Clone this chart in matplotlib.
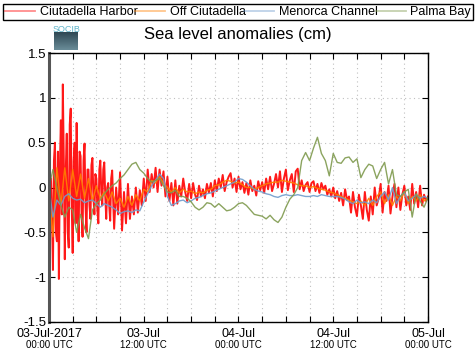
import numpy as np
import matplotlib
matplotlib.use("Agg")
import matplotlib.pyplot as plt

plt.rcParams['font.family'] = ['Liberation Sans', 'DejaVu Sans']

series_names = ["Ciutadella Harbor", "Off Ciutadella", "Menorca Channel", "Palma Bay"]
series_colors = ["#ff0000", "#ff8000", "#6f9ccc", "#7f9a4e"]

# Ciutadella Harbor, hours 0..8: 7.5-min samples
red_early_vals = [
    0.05, -0.2, 0.1, -0.3, -0.92, 0.3, 0.5, -0.5,
    -0.6, 0.4, -1.02, 0.2, 0.75, -0.3, 1.15, 0.3,
    -0.8, 0.2, 0.6, -0.5, -0.67, 0.7, 0.88, -0.2,
    -0.73, 0.3, 0.5, -0.4, 0.72, -0.1, -0.6, 0.4,
    0.35, -0.3, -0.55, 0.3, 0.49, -0.2, -0.5, 0.2,
    0.2, -0.2, -0.35, 0.25, 0.33, -0.1, -0.3, 0.15,
    0.1, -0.25, -0.4, 0.2, 0.3, -0.05, -0.2, 0.2,
    0.28, -0.1, -0.35, 0.0, 0.05, -0.2, -0.37, 0.1,
]
# Ciutadella Harbor, hours 8..48: 15-min samples
red_late_vals = [
    0.19, -0.46, 0.0, -0.3,
    0.17, -0.48, -0.05, -0.4,
    0.04, -0.35, -0.1, -0.3,
    0.0, -0.28, -0.03, -0.2,
    0.1, -0.15, 0.2, -0.05,
    0.15, 0.0, 0.22, -0.05,
    0.2, 0.02, 0.18, -0.1,
    0.12, -0.15, 0.05, -0.2,
    0.08, -0.18, 0.02, -0.1,
    0.1, -0.05, -0.15, 0.04,
    -0.12, 0.05, -0.08, -0.14,
    0.02, -0.1, -0.02, -0.12,
    0.04, -0.06, 0.05, -0.1,
    0.08, -0.04, 0.1, 0.0,
    0.14, -0.04, 0.06, 0.12,
    0.16, 0.0, 0.1, -0.05,
    0.12, -0.02, 0.06, -0.06,
    0.05, -0.08, 0.08, -0.04,
    0.02, -0.09, 0.07, -0.03,
    0.06, -0.06, 0.1, -0.02,
    0.12, -0.04, 0.04, 0.15,
    0.0, 0.18, -0.05, 0.1,
    0.2, -0.03, 0.08, 0.15,
    -0.05, 0.18, 0.21, -0.02,
    0.08, -0.04, 0.03, 0.06,
    -0.05, 0.05, 0.07, -0.04,
    0.04, -0.06, 0.05, -0.02,
    0.02, -0.08, -0.02, -0.1,
    0.0, -0.12, -0.04, -0.15,
    -0.06, -0.2, -0.02, -0.14,
    -0.1, -0.28, -0.05, -0.22,
    -0.32, -0.08, -0.2, -0.35,
    -0.05, -0.25, -0.37, -0.1,
    -0.3, 0.0, -0.2, -0.12,
    0.04, -0.28, -0.05, -0.15,
    0.02, -0.29, -0.1, 0.04,
    -0.22, 0.0, -0.25, -0.08,
    0.02, -0.2, -0.1, -0.25,
    0.04, -0.18, -0.05, -0.22,
    0.02, -0.2, -0.08, -0.15,
    -0.1,
]

# Off Ciutadella: 30-min samples
orange_vals = [
    0.0, -0.55, 0.22, -0.2, 0.22, -0.15, 0.2, -0.1, 0.15, -0.12,
    0.1, -0.15, 0.02, -0.12, -0.05, -0.15, -0.05, -0.18, -0.12, -0.22,
    -0.1, -0.2, -0.08, -0.15, -0.02, -0.05, 0.08, 0.05, 0.12, 0.05,
    0.0, -0.05, 0.0, -0.06, -0.02, -0.05, -0.04, -0.07, -0.05, -0.06,
    -0.03, -0.02, 0.02, 0.03, 0.06, 0.08, 0.07, 0.05, 0.06, 0.03,
    0.0, 0.0, -0.02, 0.0, 0.02, 0.04, 0.05, 0.06, 0.06, 0.08,
    0.07, 0.06, 0.05, 0.03, 0.02, 0.02, 0.0, 0.01, -0.01, -0.02,
    -0.03, -0.05, -0.06, -0.08, -0.1, -0.12, -0.14, -0.16, -0.18, -0.15,
    -0.2, -0.12, -0.2, -0.1, -0.05, -0.18, -0.08, -0.2, -0.1, -0.15,
    -0.05, -0.18, -0.1, -0.15, -0.08, -0.15, -0.12,
]

# Menorca Channel: 30-min samples
blue_vals = [
    0.0, -0.33, -0.14, -0.2, -0.1, -0.07, -0.12, -0.14, -0.13, -0.17,
    -0.15, -0.14, -0.18, -0.22, -0.18, -0.2, -0.22, -0.25, -0.29, -0.27,
    -0.26, -0.28, -0.25, -0.26, -0.16, -0.07, 0.02, 0.08, 0.15, 0.1,
    -0.1, -0.2, -0.18, -0.15, -0.14, -0.17, -0.15, -0.12, -0.11, -0.09,
    -0.07, -0.06, -0.04, -0.02, 0.0, 0.02, 0.04, 0.06, 0.1, 0.09,
    0.06, 0.02, -0.02, -0.04, -0.05, -0.07, -0.08, -0.1, -0.11, -0.09,
    -0.08, -0.09, -0.09, -0.08, -0.09, -0.1, -0.1, -0.09, -0.1, -0.08,
    -0.09, -0.1, -0.1, -0.1, -0.11, -0.13, -0.16, -0.18, -0.14, -0.17,
    -0.16, -0.18, -0.14, -0.17, -0.1, -0.05, -0.14, 0.0, -0.18, -0.1,
    -0.05, -0.15, -0.12, -0.08, -0.12, -0.1, -0.12,
]

# Palma Bay: 30-min samples
green_vals = [
    0.0, 0.2, 0.0, -0.2, -0.33, -0.22, -0.25, -0.5, -0.3, -0.45,
    -0.57, -0.25, -0.18, -0.14, -0.07, -0.02, 0.02, 0.05, 0.1, 0.14,
    0.2, 0.26, 0.28, 0.2, 0.16, 0.1, 0.06, 0.08, 0.1, 0.02,
    -0.05, -0.06, -0.03, -0.1, -0.1, -0.12, -0.16, -0.22, -0.25, -0.22,
    -0.17, -0.18, -0.22, -0.18, -0.22, -0.26, -0.25, -0.22, -0.18, -0.17,
    -0.2, -0.25, -0.3, -0.31, -0.32, -0.35, -0.31, -0.36, -0.39, -0.33,
    -0.22, -0.13, -0.08, 0.0, 0.3, 0.39, 0.3, 0.44, 0.56, 0.38,
    0.3, 0.13, 0.38, 0.28, 0.27, 0.33, 0.34, 0.28, 0.32, 0.11,
    0.2, 0.26, 0.24, 0.1, 0.2, 0.28, 0.04, 0.2, -0.08, -0.1,
    -0.05, -0.02, -0.33, -0.07, -0.15, -0.22, -0.11,
]

x_tick_hours = list(range(0, 49, 3))
x_label_hours = [0, 12, 24, 36, 48]
x_label_top = ["03-Jul-2017", "03-Jul", "04-Jul", "04-Jul", "05-Jul"]
x_label_bottom = ["00:00 UTC", "12:00 UTC", "00:00 UTC", "12:00 UTC", "00:00 UTC"]
y_ticks = [-1.5, -1, -0.5, 0, 0.5, 1, 1.5]
y_tick_labels = ["-1.5", "-1", "-0.5", "0", "0.5", "1", "1.5"]

red_vals = red_early_vals + red_late_vals
t_red = np.concatenate([np.arange(len(red_early_vals)) * 0.125,
                        8 + np.arange(len(red_late_vals)) * 0.25])
t_half = np.arange(len(orange_vals)) * 0.5

W, H = 476, 359
fig = plt.figure(figsize=(W / 100, H / 100), dpi=100)
ax = fig.add_axes([49 / W, 1 - 322 / H, (428 - 49) / W, (322 - 53) / H])

lines = []
for t, v, c, n, lw in [(t_red, red_vals, series_colors[0], series_names[0], 1.4),
                       (t_half, orange_vals, series_colors[1], series_names[1], 1.0),
                       (t_half, blue_vals, series_colors[2], series_names[2], 1.0),
                       (t_half, green_vals, series_colors[3], series_names[3], 1.0)]:
    ln, = ax.plot(t, v, color=c, lw=lw, alpha=0.9, label=n)
    lines.append(ln)

ax.set_xlim(0, 48)
ax.set_ylim(-1.5, 1.5)
ax.set_xticks(x_tick_hours)
ax.set_xticklabels([x_label_top[x_label_hours.index(h)] if h in x_label_hours else "" for h in x_tick_hours],
                   fontsize=9)
ax.set_yticks(y_ticks)
ax.set_yticklabels(y_tick_labels, fontsize=9.5)
ax.tick_params(direction='in', length=4, width=0.8, top=True, right=True)
ax.tick_params(axis='y', pad=2)
ax.tick_params(axis='x', pad=4.5)
ax.grid(True, color='#c0c0c0', linestyle=(0, (1, 3)), lw=0.8)
for s in ['top', 'right', 'bottom']:
    ax.spines[s].set_linewidth(1.0)
    ax.spines[s].set_color('black')
ax.spines['left'].set_linewidth(2.2)
ax.spines['left'].set_color('#555555')

for h, lab in zip(x_label_hours, x_label_bottom):
    ax.annotate(lab, xy=(h, 0), xycoords=('data', 'axes fraction'),
                xytext=(0, -22.5), textcoords='offset pixels', ha='center', va='center',
                fontsize=7)

fig.text(0.5, 1 - 35 / H, "Sea level anomalies (cm)", ha='center', va='center', fontsize=12)

leg = fig.legend(handles=lines, labels=series_names, loc='lower left', ncol=4, mode='expand',
                 bbox_to_anchor=(3 / W, 1 - 20 / H, 470 / W, 17 / H), fontsize=9,
                 handlelength=2.4, handletextpad=0.4, borderaxespad=0, borderpad=0.15,
                 columnspacing=0.8, fancybox=False, edgecolor='black', framealpha=1)
leg.get_frame().set_linewidth(1.0)
for lh in leg.get_lines():
    lh.set_alpha(0.45)
    lh.set_linewidth(1.3)

# SOCIB logo
lax = fig.add_axes([54 / W, 1 - 50 / H, 24 / W, 24 / H])
lax.set_xlim(0, 1)
lax.set_ylim(0, 1)
lax.axis('off')
grad = np.linspace(0, 1, 50).reshape(-1, 1)
lax.imshow(grad, extent=(0, 1, 0, 0.72), aspect='auto',
           cmap=matplotlib.colors.LinearSegmentedColormap.from_list('g', ['#2e4854', '#6a8c98']))
lax.text(0.5, 0.87, "SOCIB", ha='center', va='center', fontsize=6.5, color='#5fb4c9')

fig.savefig("out.png", dpi=100)
